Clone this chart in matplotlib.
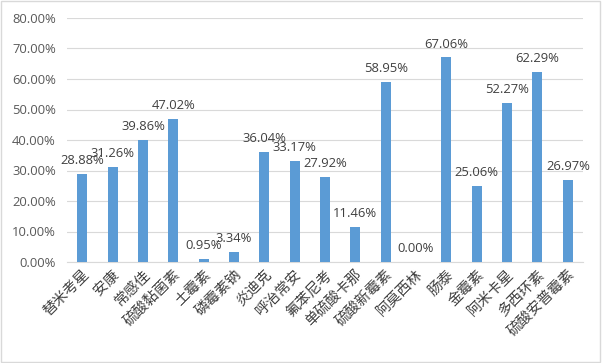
import matplotlib.pyplot as plt
from matplotlib.ticker import FuncFormatter
from matplotlib.patches import Rectangle

plt.rcParams['font.family'] = ['Noto Sans CJK SC', 'DejaVu Sans']

drugs = ["替米考星", "安康", "常感佳", "硫酸黏菌素", "土霉素", "磷霉素钠", "炎迪克",
         "呼治常安", "氟苯尼考", "单硫酸卡那", "硫酸新霉素", "阿莫西林", "肠泰",
         "金霉素", "阿米卡星", "多西环素", "硫酸安普霉素"]
rates = [28.88, 31.26, 39.86, 47.02, 0.95, 3.34, 36.04, 33.17, 27.92, 11.46,
         58.95, 0.00, 67.06, 25.06, 52.27, 62.29, 26.97]

fig = plt.figure(figsize=(6.02, 3.63), dpi=100)
ax = fig.add_axes([67/602, 1-262/363, (583-67)/602, (262-18)/363])

x = range(len(drugs))
ax.bar(x, rates, width=0.33, color="#5B9BD5", zorder=3)
for i, v in zip(x, rates):
    ax.annotate(f"{v:.2f}%", (i, v), xytext=(0, 5), textcoords="offset points",
                ha="center", va="bottom", fontsize=9.4, family="Open Sans",
                color="#404040", zorder=4)

ax.set_xlim(-0.5, len(drugs) - 0.5)
ax.set_ylim(0, 80)
ax.set_yticks(range(0, 81, 10))
ax.yaxis.set_major_formatter(FuncFormatter(lambda v, p: f"{v:.2f}%"))
for lab in ax.get_yticklabels():
    lab.set_family("Open Sans")
ax.grid(axis="y", color="#D9D9D9", linewidth=0.8, zorder=0)
ax.set_xticks(list(x))
ax.set_xticklabels(drugs, rotation=45, ha="right", rotation_mode="anchor",
                   fontsize=10.5, color="#404040")
ax.tick_params(axis="y", length=0, labelsize=9.4, labelcolor="#595959", pad=8)
ax.tick_params(axis="x", length=0, pad=4)
for s in ["top", "right", "left"]:
    ax.spines[s].set_visible(False)
ax.spines["bottom"].set_color("#D9D9D9")

fig.patches.append(Rectangle((0.002, 0.003), 0.995, 0.993, transform=fig.transFigure,
                             fill=False, edgecolor="#D9D9D9", linewidth=1))

fig.savefig("out.png", dpi=100)
